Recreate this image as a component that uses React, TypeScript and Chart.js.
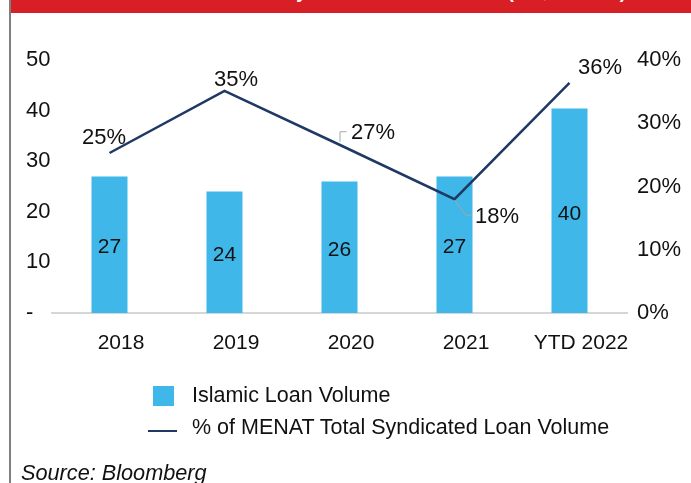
import React, { useEffect, useRef } from "react";
import { Chart, registerables } from "chart.js";

Chart.register(...registerables);

// ---- data ----
const categories = ["2018", "2019", "2020", "2021", "YTD 2022"];
const loanVolume = [27, 24, 26, 27, 40.4];
const menatShare = [25.3, 35.1, 26.6, 18.0, 36.4];
const seriesNames = ["Islamic Loan Volume", "% of MENAT Total Syndicated Loan Volume"];
const titleText = "Islamic Syndicated Loan Volume (US$ billions)";
const sourceText = "Source: Bloomberg";

// ---- styles ----
const BAR = "#3fb7e8";
const LINE = "#1f3864";
const TEXT = "#111111";
const FONT = "'Liberation Sans', Arial, Helvetica, sans-serif";
const lineLabelOffsets: [number, number][] = [
  [-5.5, -15],
  [11.5, -11],
  [33.5, -12],
  [42.5, 18],
  [30.5, -15],
];
const leaderLines: Record<number, [number, number][]> = {
  2: [
    [0.5, -3],
    [0.5, -13],
    [7, -13],
  ],
  3: [
    [0, 1],
    [11.5, 16],
    [17.5, 16],
  ],
};

const labelPlugin = {
  id: "valueLabels",
  afterDatasetsDraw(chart: any) {
    const ctx = chart.ctx as CanvasRenderingContext2D;
    ctx.save();
    ctx.fillStyle = TEXT;
    ctx.textAlign = "center";
    ctx.textBaseline = "middle";
    const barMeta = chart.getDatasetMeta(0);
    ctx.font = `21px ${FONT}`;
    barMeta.data.forEach((el: any, i: number) => {
      const p = el.getProps(["x", "y", "base"], true);
      ctx.fillText(String(Math.round(loanVolume[i])), p.x, (p.y + p.base) / 2 + 3);
    });
    const lineMeta = chart.getDatasetMeta(1);
    lineMeta.data.forEach((el: any, i: number) => {
      const p = el.getProps(["x", "y"], true);
      const lead = leaderLines[i];
      if (lead) {
        ctx.strokeStyle = "#a6a6a6";
        ctx.lineWidth = 1;
        ctx.beginPath();
        lead.forEach(([dx, dy], k) => {
          if (k === 0) ctx.moveTo(p.x + dx, p.y + dy);
          else ctx.lineTo(p.x + dx, p.y + dy);
        });
        ctx.stroke();
      }
      const [ox, oy] = lineLabelOffsets[i];
      ctx.font = `22px ${FONT}`;
      ctx.fillText(Math.round(menatShare[i]) + "%", p.x + ox, p.y + oy);
    });
    ctx.restore();
  },
};

export default function App() {
  const canvasRef = useRef<HTMLCanvasElement | null>(null);

  useEffect(() => {
    if (!canvasRef.current) return;
    const tickFont = { size: 22, family: FONT };
    const chart = new Chart(canvasRef.current, {
      type: "bar",
      data: {
        labels: categories,
        datasets: [
          {
            type: "bar",
            label: seriesNames[0],
            data: loanVolume,
            backgroundColor: BAR,
            yAxisID: "y",
            order: 2,
            barPercentage: 0.313,
            categoryPercentage: 1,
          } as any,
          {
            type: "line",
            label: seriesNames[1],
            data: menatShare,
            borderColor: LINE,
            borderWidth: 2.5,
            pointRadius: 0,
            tension: 0,
            yAxisID: "y1",
            order: 1,
          } as any,
        ],
      },
      options: {
        responsive: false,
        animation: false,
        devicePixelRatio: 1,
        layout: { padding: { left: 26, right: 0, top: 60, bottom: 130 } },
        plugins: {
          legend: { display: false },
          tooltip: { enabled: false },
        },
        scales: {
          x: {
            grid: { display: false, drawTicks: false },
            border: { display: true, color: "#d6d6d6", width: 2 },
            ticks: { padding: 17.5, labelOffset: 11.5, font: { size: 21, family: FONT }, color: TEXT },
            afterFit: (s: any) => {
              s.height = 40;
            },
          },
          y: {
            position: "left",
            min: 0,
            max: 50,
            grid: { display: false, drawTicks: false },
            border: { display: false },
            ticks: {
              stepSize: 10,
              crossAlign: "far",
              padding: 2,
              font: tickFont,
              color: TEXT,
              callback: (v: any) => (v === 0 ? "-" : String(v)),
            },
            afterFit: (s: any) => {
              s.width = 26;
            },
          },
          y1: {
            position: "right",
            min: 0,
            max: 40,
            grid: { display: false, drawOnChartArea: false, drawTicks: false },
            border: { display: false },
            ticks: {
              stepSize: 10,
              padding: 10,
              font: tickFont,
              color: TEXT,
              callback: (v: any) => v + "%",
            },
            afterFit: (s: any) => {
              s.width = 64;
            },
          },
        },
      } as any,
      plugins: [labelPlugin],
    });
    return () => chart.destroy();
  }, []);

  const textBase: React.CSSProperties = {
    position: "absolute",
    fontFamily: FONT,
    fontSize: 21.5,
    lineHeight: "21px",
    color: TEXT,
    whiteSpace: "nowrap",
  };

  return (
    <div
      style={{
        position: "fixed",
        left: 0,
        top: 0,
        width: 691,
        height: 483,
        background: "#ffffff",
        overflow: "hidden",
      }}
    >
      <div style={{ position: "absolute", left: 9, top: 0, width: 2, height: 483, background: "#7f7f7f" }} />
      <div
        style={{
          position: "absolute",
          left: 11,
          top: 0,
          width: 680,
          height: 13,
          background: "#d91f26",
          overflow: "hidden",
        }}
      >
        <div
          style={{
            position: "absolute",
            left: 205,
            top: -16.7,
            fontFamily: FONT,
            fontWeight: "bold",
            fontSize: 18.5,
            lineHeight: "18.5px",
            color: "#ffffff",
            whiteSpace: "nowrap",
          }}
        >
          {titleText}
        </div>
      </div>
      <canvas
        ref={canvasRef}
        width={691}
        height={483}
        style={{ position: "absolute", left: 0, top: 0, width: 691, height: 483, display: "block" }}
      />
      <div style={{ position: "absolute", left: 153, top: 386, width: 21, height: 20, background: BAR }} />
      <div style={{ position: "absolute", left: 148, top: 430, width: 29, height: 2, background: LINE }} />
      <div style={{ ...textBase, left: 192, top: 385 }}>{seriesNames[0]}</div>
      <div style={{ ...textBase, left: 192, top: 417 }}>{seriesNames[1]}</div>
      <div style={{ ...textBase, fontSize: 21.7, left: 21, top: 462, fontStyle: "italic" }}>{sourceText}</div>
    </div>
  );
}
